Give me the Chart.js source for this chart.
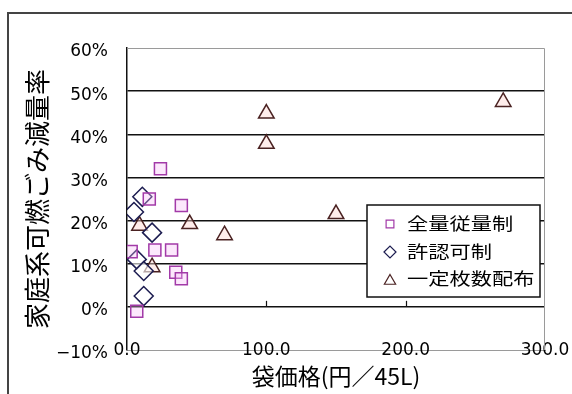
<!DOCTYPE html>
<html>
<head>
<meta charset="utf-8">
<script src="https://cdn.jsdelivr.net/npm/chart.js@4/dist/chart.umd.min.js"></script>
<style>
html, body { margin:0; padding:0; background:#fff; }
</style>
</head>
<body>
<canvas id="chart" width="572" height="394"></canvas>
<script>
// 系列名
var seriesNames = ["全量従量制", "許認可制", "一定枚数配布"];

// 全量従量制 (袋価格, 減量率%)
var zenryoX = [24, 16, 39, 3, 20, 32, 35, 39, 7];
var zenryoY = [32, 25, 23.5, 12.8, 13.2, 13.2, 8, 6.5, -1];

// 許認可制
var kyoninX = [11, 5, 18, 7, 12, 12];
var kyoninY = [25.5, 22, 17.2, 11, 8.3, 2.5];

// 一定枚数配布
var ichiteiX = [270, 100, 100, 150, 70, 45, 9, 18];
var ichiteiY = [47.5, 44.8, 37.8, 21.5, 16.6, 19.2, 18.8, 9.2];

// 軸
var xTicks = [0, 100, 200, 300];
var yTicks = [-10, 0, 10, 20, 30, 40, 50, 60];

function toPoints(xs, ys){
	var pts = [];
	for(var i=0; i<xs.length; i++){
		pts.push({x: xs[i], y: ys[i]});
	}
	return pts;
}

//外枠
var framePlugin = {
	id: "frame",
	beforeDraw: function(chart){
		var ctx = chart.ctx;
		ctx.save();
		ctx.fillStyle = "#fff";
		ctx.fillRect(0, 0, chart.width, chart.height);
		ctx.strokeStyle = "#444";
		ctx.lineWidth = 2;
		ctx.beginPath();
		ctx.moveTo(8, chart.height + 2);
		ctx.lineTo(8, 13);
		ctx.lineTo(chart.width + 2, 13);
		ctx.stroke();
		ctx.restore();
	},
	beforeDatasetsDraw: function(chart){
		var ctx = chart.ctx;
		var a = chart.chartArea;
		ctx.save();
		// プロットエリア上・右の枠
		ctx.strokeStyle = "#9a9a9a";
		ctx.lineWidth = 1;
		ctx.beginPath();
		ctx.moveTo(a.left, a.top + 0.5);
		ctx.lineTo(a.right - 0.5, a.top + 0.5);
		ctx.lineTo(a.right - 0.5, a.bottom);
		ctx.stroke();
		// 0%線上の目盛
		var y0 = chart.scales.y.getPixelForValue(0);
		ctx.strokeStyle = "#111";
		ctx.lineWidth = 1.2;
		for(var i=1; i<xTicks.length-1; i++){
			var px = Math.round(chart.scales.x.getPixelForValue(xTicks[i])) + 0.5;
			ctx.beginPath();
			ctx.moveTo(px, y0);
			ctx.lineTo(px, y0 - 6);
			ctx.stroke();
		}
		ctx.restore();
	}
};

//凡例
var legendPlugin = {
	id: "boxLegend",
	afterDraw: function(chart){
		var ctx = chart.ctx;
		var bx = 367, by = 205, bw = 173, bh = 92;
		ctx.save();
		ctx.fillStyle = "#fff";
		ctx.fillRect(bx, by, bw, bh);
		ctx.strokeStyle = "#111";
		ctx.lineWidth = 1.5;
		ctx.strokeRect(bx, by, bw, bh);
		var rows = [224, 252, 279];
		var radius = [5.5, 6, 6.5];
		chart.data.datasets.forEach(function(ds, i){
			ctx.strokeStyle = ds.borderColor;
			ctx.fillStyle = "#fff";
			ctx.lineWidth = 1.2;
			Chart.helpers.drawPoint(ctx, {pointStyle: ds.pointStyle, radius: radius[i], rotation: 0, borderWidth: 1.2}, 390, rows[i] + (ds.pointStyle == "triangle" ? 2 : 0));
			ctx.save();
			ctx.translate(407, rows[i]);
			ctx.scale(1.25, 1);
			ctx.fillStyle = "#000";
			ctx.font = "17px 'Noto Sans CJK JP'";
			ctx.textBaseline = "middle";
			ctx.fillText(ds.label, 0, 0);
			ctx.restore();
		});
		ctx.restore();
	}
};

var ctx = document.getElementById("chart").getContext("2d");
new Chart(ctx, {
	type: "scatter",
	data: {
		datasets: [
			{
				label: seriesNames[0],
				data: toPoints(zenryoX, zenryoY),
				pointStyle: "rect",
				pointRadius: 8.5,
				borderWidth: 1.5,
				borderColor: "#a23aa8",
				backgroundColor: "rgba(245,190,245,0.35)"
			},
			{
				label: seriesNames[1],
				data: toPoints(kyoninX, kyoninY),
				pointStyle: "rectRot",
				pointRadius: 9.5,
				borderWidth: 1.5,
				borderColor: "#1c1c50",
				backgroundColor: "rgba(255,255,255,0.6)"
			},
			{
				label: seriesNames[2],
				data: toPoints(ichiteiX, ichiteiY),
				pointStyle: "triangle",
				pointRadius: 9,
				borderWidth: 1.5,
				borderColor: "#4a2222",
				backgroundColor: "rgba(255,215,210,0.45)"
			}
		]
	},
	options: {
		responsive: false,
		animation: false,
		layout: { padding: { top: 48, right: 27, left: 0, bottom: 0 } },
		plugins: {
			legend: { display: false },
			tooltip: { enabled: false }
		},
		scales: {
			x: {
				type: "linear",
				min: 0,
				max: 300,
				afterBuildTicks: function(scale){
					scale.ticks = xTicks.map(function(v){ return {value: v}; });
				},
				afterFit: function(scale){
					scale.height = 44;
					scale.paddingLeft = 0;
					scale.paddingRight = 0;
				},
				ticks: {
					mirror: true,
					padding: -11,
					maxRotation: 0,
					color: "#000",
					font: { family: "DejaVu Sans", size: 17 },
					callback: function(v){ return Number(v).toFixed(1); }
				},
				grid: { drawOnChartArea: false, drawTicks: false },
				border: { color: "#9a9a9a", width: 1 },
				title: {
					display: true,
					text: "袋価格(円／45L)",
					color: "#000",
					font: { family: "Noto Sans CJK JP", size: 23 },
					padding: { top: 0, bottom: 4 }
				}
			},
			y: {
				type: "linear",
				min: -10,
				max: 60,
				afterBuildTicks: function(scale){
					scale.ticks = yTicks.map(function(v){ return {value: v}; });
				},
				afterFit: function(scale){
					scale.width = 127;
					scale.paddingTop = 0;
					scale.paddingBottom = 0;
				},
				ticks: {
					padding: 19,
					labelOffset: 4,
					color: "#000",
					font: { family: "DejaVu Sans", size: 17 },
					callback: function(v){ return (v < 0 ? "\u2212" + Math.abs(v) : v) + "%"; }
				},
				grid: {
					drawTicks: false,
					lineWidth: 1.5,
					color: function(c){
						var v = c.tick ? c.tick.value : null;
						return (v == null || v <= -10 || v >= 60) ? "rgba(0,0,0,0)" : "#111";
					}
				},
				border: { color: "#111", width: 1.5 },
				title: {
					display: true,
					text: "家庭系可燃ごみ減量率",
					color: "#000",
					font: { family: "Noto Sans CJK JP", size: 26 },
					padding: { top: 22, bottom: 0 }
				}
			}
		}
	},
	plugins: [framePlugin, legendPlugin]
});
</script>
</body>
</html>
